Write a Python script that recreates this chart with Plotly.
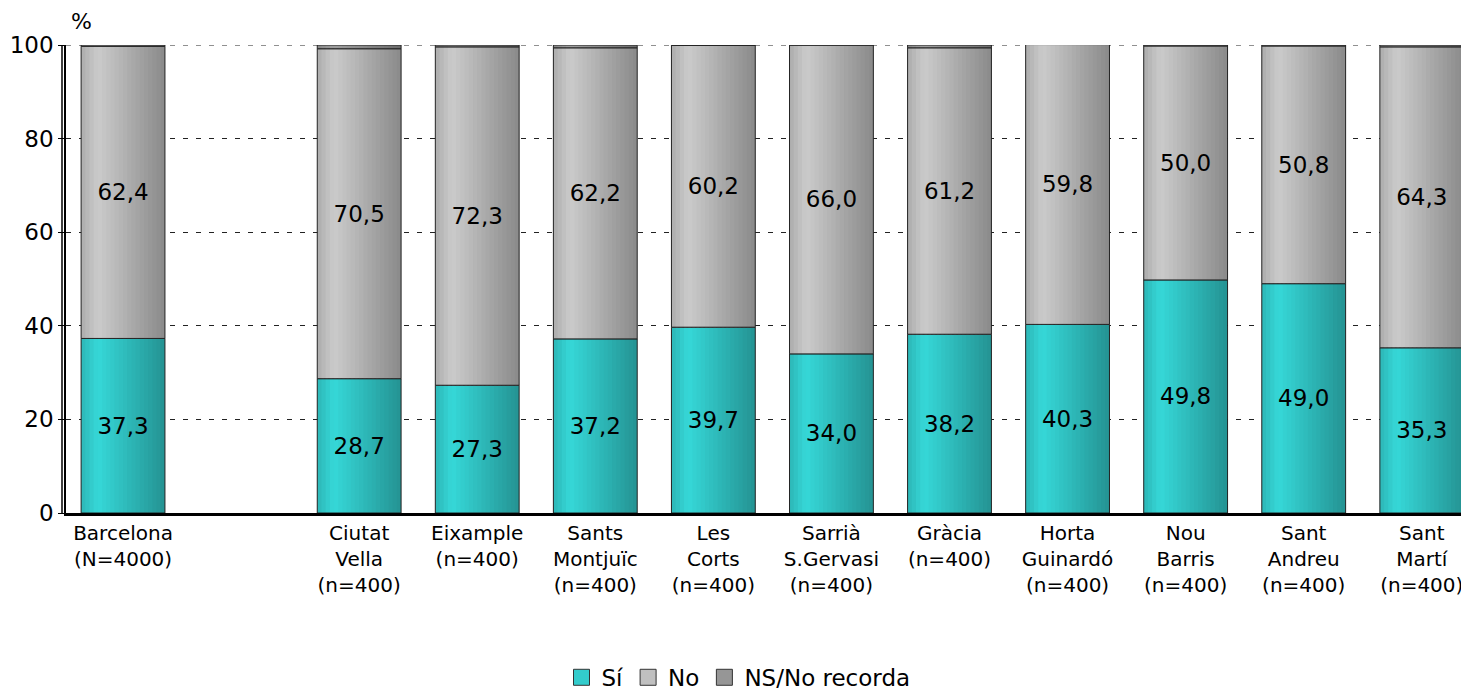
import plotly.graph_objects as go

# ── Data ─────────────────────────────────────────────────────────────────────
districts = [
    "Barcelona<br>(N=4000)",
    None,  # empty slot between the city total and the districts
    "Ciutat<br>Vella<br>(n=400)",
    "Eixample<br>(n=400)",
    "Sants<br>Montjuïc<br>(n=400)",
    "Les<br>Corts<br>(n=400)",
    "Sarrià<br>S.Gervasi<br>(n=400)",
    "Gràcia<br>(n=400)",
    "Horta<br>Guinardó<br>(n=400)",
    "Nou<br>Barris<br>(n=400)",
    "Sant<br>Andreu<br>(n=400)",
    "Sant<br>Martí<br>(n=400)",
]
si = [37.3, 28.7, 27.3, 37.2, 39.7, 34.0, 38.2, 40.3, 49.8, 49.0, 35.3]
no = [62.4, 70.5, 72.3, 62.2, 60.2, 66.0, 61.2, 59.8, 50.0, 50.8, 64.3]
ns = [0.3, 0.8, 0.4, 0.6, 0.1, 0.0, 0.6, 0.0, 0.2, 0.2, 0.4]

series = [
    ("Sí", si, (51, 204, 204)),
    ("No", no, (192, 192, 192)),
    ("NS/No recorda", ns, (150, 150, 150)),
]

# ── Layout helpers ───────────────────────────────────────────────────────────
_FONT = "DejaVu Sans, Verdana, sans-serif"
BAR_W = 0.71
N_STRIPS = 20
# page body has an 8px margin, so the figure is a bit smaller than the window
FIG_W, FIG_H = 1461, 683

pos = [i for i, d in enumerate(districts) if d is not None]
tickvals = pos
ticktext = [d for d in districts if d is not None]


def _shade(rgb, t):
    # cylinder-like shading: light band near the left, darker to the right
    if t < 0.2:
        f = 0.9 + (t / 0.2) * 0.16
    else:
        f = 1.06 - (t - 0.2) / 0.8 * 0.34
    return "rgb({},{},{})".format(*[max(0, min(255, int(c * f))) for c in rgb])


def _fmt(v):
    return f"{v:.1f}".replace(".", ",")


fig = go.Figure()

base = [0.0] * len(pos)
for name, vals, rgb in series:
    # shaded strips (slightly overlapping to avoid seams)
    sw = BAR_W / N_STRIPS
    for k in range(N_STRIPS):
        t = (k + 0.5) / N_STRIPS
        w = sw * 1.6 if k < N_STRIPS - 1 else sw
        fig.add_trace(go.Bar(
            x=pos, y=vals, base=base,
            width=[w] * len(pos),
            offset=[-BAR_W / 2 + k * sw] * len(pos),
            marker=dict(color=_shade(rgb, t), line_width=0),
            showlegend=False, hoverinfo="skip",
        ))
    # outline + value labels
    labels = [_fmt(v) if v >= 5 else "" for v in vals]
    fig.add_trace(go.Bar(
        x=pos, y=vals, base=base,
        width=[BAR_W] * len(pos),
        marker=dict(color="rgba(0,0,0,0)", line=dict(color="#222222", width=1)),
        text=labels, textposition="inside", insidetextanchor="middle",
        textfont=dict(size=23, color="black", family=_FONT),
        showlegend=False,
        hovertemplate=name + ": %{y:.1f}%<extra></extra>",
    ))
    # legend swatch
    fig.add_trace(go.Scatter(
        x=[None], y=[None], name=name, mode="markers",
        marker=dict(symbol="square", size=17,
                    color="rgb({},{},{})".format(*rgb),
                    line=dict(color="#333333", width=1)),
    ))
    base = [b + v for b, v in zip(base, vals)]

# dashed line at the top of the scale, and the 3D wall edge on the left
fig.add_hline(y=100, line=dict(color="#222222", width=1, dash="5px,8px"), layer="below")
fig.add_shape(type="line", xref="paper", yref="y", x0=-4 / (FIG_W - 58), x1=-4 / (FIG_W - 58),
              y0=0, y1=100, line=dict(color="black", width=1.5))

fig.add_annotation(
    text="%", xref="paper", yref="paper", x=0, y=1,
    xanchor="left", yanchor="bottom", xshift=3, yshift=9,
    showarrow=False, font=dict(size=22, color="black", family=_FONT),
)

fig.update_layout(
    width=FIG_W, height=FIG_H,
    barmode="overlay",
    paper_bgcolor="white", plot_bgcolor="white",
    font=dict(family=_FONT, size=20, color="black"),
    margin=dict(l=58, r=0, t=37, b=178, autoexpand=False),
    xaxis=dict(
        range=[-0.483, 11.4],
        tickvals=tickvals, ticktext=ticktext,
        tickfont=dict(size=20), ticks="",
        showgrid=False, showline=True, linecolor="black", linewidth=2.5,
        zeroline=False,
    ),
    yaxis=dict(
        range=[0, 100], dtick=20,
        tickfont=dict(size=23), ticks="outside", ticklen=6, tickcolor="black",
        showgrid=True, gridcolor="#222222", griddash="5px,8px", gridwidth=1,
        showline=True, linecolor="black", linewidth=1.5,
        zeroline=False,
    ),
    legend=dict(
        orientation="h", xref="container", x=0.5, xanchor="center",
        yref="container", y=0.02, yanchor="middle",
        font=dict(size=23), itemwidth=30, traceorder="normal",
        itemsizing="trace", tracegroupgap=0,
    ),
)

fig.write_html("out.html")
